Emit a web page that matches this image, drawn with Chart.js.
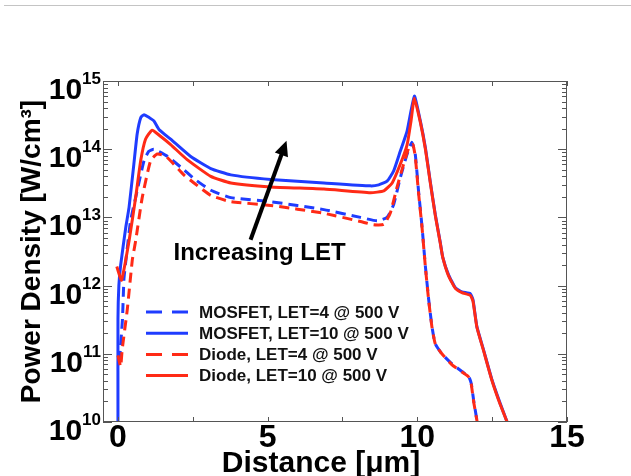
<!DOCTYPE html>
<html><head><meta charset="utf-8">
<script src="https://cdn.jsdelivr.net/npm/chart.js@4.4.1/dist/chart.umd.min.js"></script>
<style>
html,body{margin:0;padding:0;background:#fff;}
#wrap{position:relative;width:631px;height:476px;overflow:hidden;}
canvas{position:absolute;left:0;top:0;}
#rule{position:absolute;left:4px;right:0;top:5px;height:1px;background:#c4c4c4;}
</style></head><body>
<div id="wrap"><canvas id="c" width="631" height="476"></canvas><div id="rule"></div></div>
<script>
// ---- data ----
const seriesLabels = ['MOSFET, LET=4 @ 500 V','MOSFET, LET=10 @ 500 V','Diode, LET=4 @ 500 V','Diode, LET=10 @ 500 V'];

const mosfet4X = [0.05,0.15,0.2,0.3,0.42,0.64,0.87,1.03,1.2,1.66,2.2,2.54,3.1,3.77,5.1,6.88,8.1,8.66,8.99,9.21,9.43,9.66,9.82,9.93,10.04,10.16,10.27,10.38,10.49,10.6,10.82,11.16,11.49,11.71,11.8,11.88,12.0];
const mosfet4Y = [7.9e10,3.2e11,1.26e12,3.2e12,8.9e12,2.45e13,6.8e13,9.3e13,1.0e14,7.8e13,5.0e13,3.7e13,2.5e13,1.95e13,1.7e13,1.3e13,1.0e13,8.9e12,1.0e13,1.55e13,3.8e13,8.5e13,1.26e14,8.5e13,2.45e13,7.1e12,1.9e12,6.2e11,2.5e11,1.4e11,1.0e11,7.1e10,5.5e10,4.7e10,3.7e10,2.1e10,1e10];

const mosfet10X = [0,0,0.03,0.09,0.26,0.37,0.53,0.64,0.76,0.87,1.05,1.2,1.37,1.76,2.43,3.1,3.77,5.1,6.88,8.43,8.71,8.99,9.21,9.43,9.66,9.9,10.1,10.27,10.43,10.6,10.77,10.85,11.04,11.27,11.49,11.77,11.86,11.99,12.21,12.49,12.77,13.0];
const mosfet10Y = [1e10,3.2e11,1e12,2.0e12,7.1e12,1.4e13,6.0e13,1.66e14,2.9e14,3.2e14,2.9e14,2.6e14,1.95e14,1.4e14,7.8e13,5.2e13,4.2e13,3.6e13,3.2e13,2.9e13,3.0e13,3.4e13,4.8e13,9.3e13,1.86e14,6.0e14,2.6e14,1.05e14,3.4e13,1.1e13,4.2e12,2.6e12,1.45e12,9.3e11,8.1e11,7.6e11,6.2e11,2.5e11,1.15e11,4.2e10,1.86e10,1e10];

const diode4X = [0.0,0.09,0.14,0.31,0.48,0.59,0.81,1.09,1.31,1.6,2.2,2.54,3.1,3.77,5.1,6.88,8.1,8.54,8.88,9.1,9.32,9.54,9.74,9.85,9.93,10.04,10.16,10.27,10.38,10.49,10.6,10.82,11.16,11.49,11.71,11.8,11.88,12.0];
const diode4Y = [9.5e10,6.5e10,1.15e11,4.4e11,2.4e12,4.5e12,1.95e13,6.8e13,8.5e13,7.9e13,4.2e13,3.2e13,2.1e13,1.7e13,1.5e13,1.15e13,8.7e12,7.8e12,7.9e12,1.17e13,2.75e13,6.0e13,1.12e14,1.17e14,7.9e13,2.3e13,6.9e12,1.86e12,6.0e11,2.45e11,1.4e11,1.0e11,6.9e10,5.4e10,4.6e10,3.6e10,2.0e10,1e10];

const diode10X = [-0.04,0.12,0.37,0.59,0.76,0.92,1.14,1.42,1.76,2.3,3.1,3.77,5.1,6.88,8.43,8.88,9.16,9.43,9.66,9.79,9.9,10.1,10.27,10.43,10.6,10.77,10.85,11.04,11.27,11.49,11.77,11.86,11.99,12.21,12.49,12.77,13.0];
const diode10Y = [1.9e12,1.2e12,4.5e12,1.95e13,6.8e13,1.4e14,1.9e14,1.55e14,1.17e14,7.1e13,4.0e13,3.2e13,2.8e13,2.6e13,2.3e13,2.45e13,3.2e13,6.0e13,1.17e14,2.6e14,5.6e14,2.5e14,1.0e14,3.3e13,1.07e13,4.1e12,2.6e12,1.4e12,9.1e11,7.9e11,7.2e11,5.9e11,2.45e11,1.12e11,4.1e10,1.8e10,1e10];

const xTickValues = [0,5,10,15];
const xTickLabels = ['0','5','10','15'];
const xMinorTicks = [2.5,7.5,12.5];
const yTickValues = [1e10,1e11,1e12,1e13,1e14,1e15];
const yTickBase = ['10','10','10','10','10','10'];
const yTickExp = ['10','11','12','13','14','15'];
const xTitle = 'Distance [\u03BCm]';
const yTitle = 'Power Density [W/cm\u00B3]';
const noteText = 'Increasing LET';
const noteAt = {x: 4.73, y: 2.4e12};
const arrowFrom = {x: 4.43, y: 4.7e12};
const arrowTo = {x: 5.63, y: 1.33e14};

// ---- styling ----
const FONT = '"Liberation Sans", Arial, Helvetica, sans-serif';
const BLUE = '#1f3cff';
const RED = '#ff2a16';
const DASH = [10, 6];

function pts(xs, ys){ return xs.map((x,i)=>({x:x, y:ys[i]})); }

const datasets = [
  {label: seriesLabels[0], data: pts(mosfet4X, mosfet4Y), borderColor: BLUE, borderDash: DASH, order: 1},
  {label: seriesLabels[1], data: pts(mosfet10X, mosfet10Y), borderColor: BLUE, borderDash: [], order: 1},
  {label: seriesLabels[2], data: pts(diode4X, diode4Y), borderColor: RED, borderDash: DASH, order: 0},
  {label: seriesLabels[3], data: pts(diode10X, diode10Y), borderColor: RED, borderDash: [], order: 0}
];

const decor = {
  id: 'decor',
  afterDraw(chart){
    const {ctx, chartArea: a, scales: {x, y}} = chart;
    ctx.save();
    // y tick labels with superscript exponents
    ctx.fillStyle = '#000'; ctx.textBaseline = 'alphabetic'; ctx.textAlign = 'left';
    yTickValues.forEach((v, i) => {
      const py = y.getPixelForValue(v);
      ctx.font = 'bold 17px ' + FONT;
      const ew = ctx.measureText(yTickExp[i]).width;
      ctx.font = 'bold 30px ' + FONT;
      const bw = ctx.measureText(yTickBase[i]).width;
      const right = a.left - 2;
      ctx.fillText(yTickBase[i], right - ew - bw, py + 18);
      ctx.font = 'bold 17px ' + FONT;
      ctx.fillText(yTickExp[i], right - ew, py + 3);
    });
    // x axis title
    ctx.font = 'bold 30px ' + FONT;
    ctx.textAlign = 'center';
    ctx.fillText(xTitle, (a.left + a.right) / 2 - 14, a.bottom + 50);
    ctx.restore();
  },
  afterDatasetsDraw(chart){
    const {ctx, chartArea: a, scales: {x, y}} = chart;
    ctx.save();
    // frame
    ctx.strokeStyle = '#555'; ctx.lineWidth = 1; ctx.setLineDash([]);
    ctx.strokeRect(Math.round(a.left)+0.5, Math.round(a.top)+0.5, Math.round(a.right-a.left)-1, Math.round(a.bottom-a.top)-1);
    ctx.beginPath();
    xTickValues.concat(xMinorTicks).forEach(v=>{
      const px = Math.round(x.getPixelForValue(v))+0.5;
      ctx.moveTo(px, a.bottom); ctx.lineTo(px, a.bottom-5);
      ctx.moveTo(px, a.top); ctx.lineTo(px, a.top+5);
    });
    for (let i=0;i<yTickValues.length;i++){
      const base = yTickValues[i];
      for (let m=1;m<=9;m++){
        if (i===yTickValues.length-1 && m>1) break;
        const py = Math.round(y.getPixelForValue(base*m))+0.5;
        const len = m===1 ? 9 : 5;
        ctx.moveTo(a.left, py); ctx.lineTo(a.left+len, py);
        ctx.moveTo(a.right, py); ctx.lineTo(a.right-len, py);
      }
    }
    ctx.stroke();
    // arrow
    const x0 = x.getPixelForValue(arrowFrom.x), y0 = y.getPixelForValue(arrowFrom.y);
    const x1 = x.getPixelForValue(arrowTo.x), y1 = y.getPixelForValue(arrowTo.y);
    const ang = Math.atan2(y1-y0, x1-x0);
    const hl = 15, hw = 7;
    const bx = x1 - hl*Math.cos(ang), by = y1 - hl*Math.sin(ang);
    ctx.strokeStyle = '#000'; ctx.lineWidth = 4; ctx.lineCap='butt';
    ctx.beginPath(); ctx.moveTo(x0,y0); ctx.lineTo(bx+2*Math.cos(ang),by+2*Math.sin(ang)); ctx.stroke();
    ctx.fillStyle = '#000';
    ctx.beginPath();
    ctx.moveTo(x1,y1);
    ctx.lineTo(bx + hw*Math.sin(ang), by - hw*Math.cos(ang));
    ctx.lineTo(bx - hw*Math.sin(ang), by + hw*Math.cos(ang));
    ctx.closePath(); ctx.fill();
    // note
    ctx.font = 'bold 24px ' + FONT;
    ctx.textAlign = 'center'; ctx.textBaseline = 'alphabetic';
    ctx.fillText(noteText, x.getPixelForValue(noteAt.x), y.getPixelForValue(noteAt.y));
    // legend
    ctx.font = 'bold 17px ' + FONT;
    ctx.textAlign = 'left'; ctx.textBaseline = 'middle';
    chart.data.datasets.forEach((ds, i)=>{
      const ry = a.top + 231 + i*21.2;
      ctx.strokeStyle = ds.borderColor; ctx.lineWidth = 3;
      ctx.setLineDash(ds.borderDash.length ? [16, 10] : []);
      ctx.beginPath(); ctx.moveTo(a.left+43, ry); ctx.lineTo(a.left+85, ry); ctx.stroke();
      ctx.setLineDash([]);
      ctx.fillStyle = '#111';
      ctx.fillText(ds.label, a.left+96, ry+1);
    });
    ctx.restore();
  }
};

new Chart(document.getElementById('c'), {
  type: 'line',
  data: {datasets},
  plugins: [decor],
  options: {
    responsive: false, animation: false, devicePixelRatio: 1,
    layout: {padding: {top: 81, right: 64, left: 0, bottom: 0}},
    plugins: {legend: {display: false}, tooltip: {enabled: false}},
    elements: {point: {radius: 0}, line: {borderWidth: 3, tension: 0.15, borderJoinStyle: 'round', fill: false}},
    scales: {
      x: {
        type: 'linear', min: -0.5, max: 15,
        afterBuildTicks: s => { s.ticks = xTickValues.map(v=>({value:v})); },
        afterFit: s => { s.height = 54; },
        grid: {display: false, drawTicks: false}, border: {display: false},
        ticks: {color: '#000', font: {family: FONT, size: 32, weight: 'bold', lineHeight: 1}, padding: 0, maxRotation: 0, autoSkip: false,
          callback: v => xTickLabels[xTickValues.indexOf(v)]},
        title: {display: false, text: xTitle}
      },
      y: {
        type: 'logarithmic', min: 1e10, max: 1e15,
        afterBuildTicks: s => { s.ticks = yTickValues.map(v=>({value:v})); },
        afterFit: s => { s.width = 103; },
        grid: {display: false, drawTicks: false}, border: {display: false},
        ticks: {display: false, autoSkip: false},
        title: {display: true, text: yTitle, color: '#000', font: {family: FONT, size: 28, weight: 'bold', lineHeight: 1}, padding: {top: 18, bottom: 0}}
      }
    }
  }
});
</script>
</body></html>
